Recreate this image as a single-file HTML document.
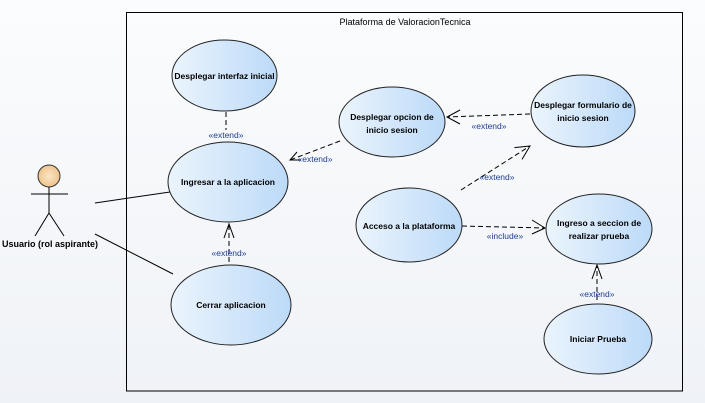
<!DOCTYPE html>
<html><head><style>body{margin:0;}svg{display:block}</style></head><body>
<svg width="705" height="403" xmlns="http://www.w3.org/2000/svg" font-family="'Liberation Sans', sans-serif">
<defs>
<linearGradient id="bg" x1="0" y1="0" x2="0" y2="1"><stop offset="0" stop-color="#fbfcfd"/><stop offset="1" stop-color="#eff2f7"/></linearGradient>
<linearGradient id="uc" x1="0" y1="0" x2="1" y2="0"><stop offset="0" stop-color="#ebf4fd"/><stop offset="1" stop-color="#bcdaf8"/></linearGradient>
<radialGradient id="hd"><stop offset="0" stop-color="#fbe6c6"/><stop offset="1" stop-color="#eec48c"/></radialGradient>
</defs>
<rect width="705" height="403" fill="url(#bg)"/>
<rect x="126.5" y="12.5" width="556" height="378.5" fill="none" stroke="#000"/>
<text x="405" y="25" font-size="9" text-anchor="middle">Plataforma de ValoracionTecnica</text>
<!-- actor -->
<circle cx="49" cy="176" r="11" fill="url(#hd)" stroke="#333"/>
<g stroke="#000" fill="none">
<line x1="49" y1="187" x2="49" y2="213"/><line x1="31" y1="194" x2="68" y2="194"/>
<line x1="49" y1="213" x2="35" y2="236"/><line x1="49" y1="213" x2="64" y2="236"/>
<line x1="95" y1="203" x2="170" y2="192"/><line x1="95" y1="234" x2="173" y2="274"/>
</g>
<text x="50" y="247" font-size="9" font-weight="bold" text-anchor="middle">Usuario (rol aspirante)</text>
<!-- connectors -->
<g stroke="#000" fill="none" stroke-dasharray="5,3">
<line x1="226" y1="112" x2="226" y2="130"/>
<line x1="229" y1="262" x2="229" y2="224"/>
<line x1="340" y1="141" x2="290" y2="160"/>
<line x1="530" y1="114" x2="447" y2="117"/>
<line x1="461" y1="190" x2="530" y2="146"/>
<line x1="462" y1="226" x2="545" y2="228"/>
<line x1="597" y1="300" x2="597" y2="265"/>
</g>
<g stroke="#000" fill="none">
<polyline points="224,238 229,224 234,238"/>
<polyline points="297,152 290,160 301,160"/>
<polyline points="460,110 447,117 460,124"/>
<polyline points="522,159.4 530,146 514.4,147.6"/>
<polyline points="532,220 545,228 532,234"/>
<polyline points="592,279 597,265 602,279"/>
</g>
<g font-size="8.5" fill="#1c3d8c" text-anchor="middle">
<text x="226" y="138">«extend»</text>
<text x="229" y="256">«extend»</text>
<text x="315" y="162">«extend»</text>
<text x="489" y="129">«extend»</text>
<text x="497" y="180">«extend»</text>
<text x="505" y="239">«include»</text>
<text x="597" y="297">«extend»</text>
</g>
<!-- use cases -->
<g fill="url(#uc)" stroke="#222">
<ellipse cx="224.5" cy="75.5" rx="52.5" ry="35.5"/>
<ellipse cx="228" cy="182" rx="60" ry="40"/>
<ellipse cx="231" cy="305" rx="60" ry="40"/>
<ellipse cx="392" cy="122" rx="53" ry="35"/>
<ellipse cx="583" cy="111" rx="52" ry="36"/>
<ellipse cx="409" cy="225" rx="53" ry="37"/>
<ellipse cx="599" cy="229" rx="53" ry="35"/>
<ellipse cx="598" cy="339" rx="54" ry="35"/>
</g>
<g font-size="8.5" font-weight="bold" text-anchor="middle" fill="#000">
<text x="224.5" y="79">Desplegar interfaz inicial</text>
<text x="228" y="185">Ingresar a la aplicacion</text>
<text x="231" y="308">Cerrar aplicacion</text>
<text x="392" y="120">Desplegar opcion de</text><text x="392" y="133">inicio sesion</text>
<text x="583" y="108">Desplegar formulario de</text><text x="583" y="121">inicio sesion</text>
<text x="409" y="229">Acceso a la plataforma</text>
<text x="599" y="226">Ingreso a seccion de</text><text x="599" y="239">realizar prueba</text>
<text x="598" y="342">Iniciar Prueba</text>
</g>
</svg>
</body></html>
